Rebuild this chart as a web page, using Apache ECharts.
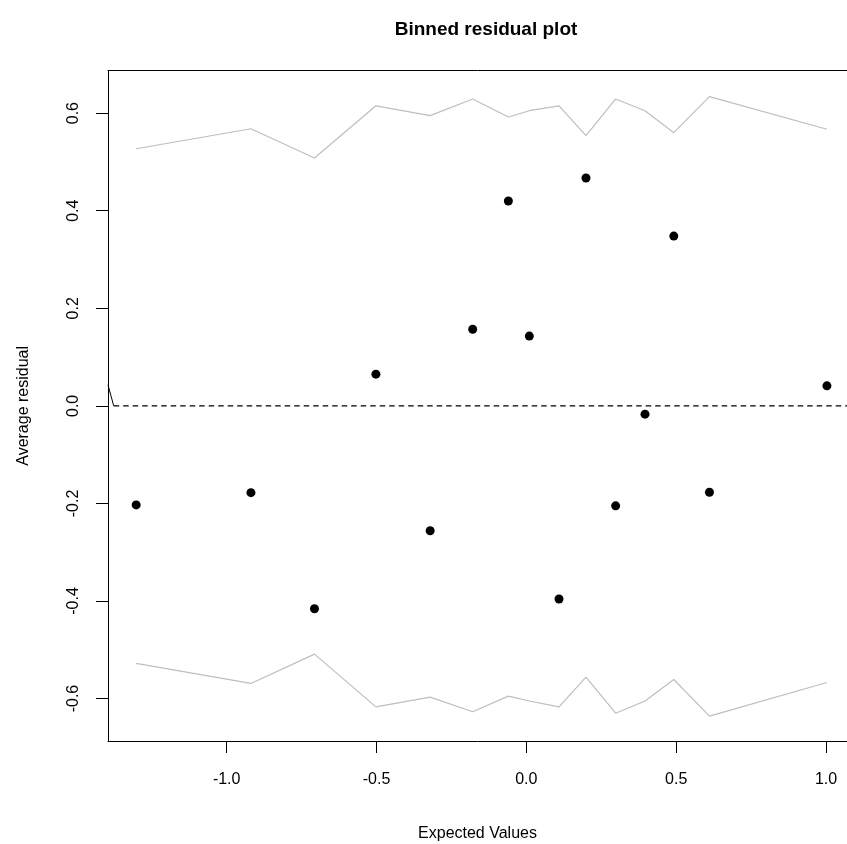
<!DOCTYPE html>
<html>
<head>
<meta charset="utf-8">
<script src="https://cdn.jsdelivr.net/npm/echarts@6/dist/echarts.min.js"></script>
<style>
    html, body { margin: 0; padding: 0; background: #fff; }
    #chart { width: 847px; height: 844px; }
</style>
</head>
<body>
<div id="chart"></div>
<script>
    // binned residuals
    var expected = [-1.302, -0.919, -0.707, -0.502, -0.321, -0.179, -0.060, 0.010, 0.109, 0.199, 0.298, 0.396, 0.492, 0.611, 1.003];
    var avgResidual = [-0.203, -0.178, -0.416, 0.065, -0.256, 0.157, 0.420, 0.143, -0.396, 0.467, -0.205, -0.017, 0.348, -0.177, 0.041];
    var upperBound = [0.527, 0.568, 0.508, 0.615, 0.595, 0.629, 0.592, 0.605, 0.615, 0.554, 0.629, 0.605, 0.560, 0.634, 0.567];
    var lowerBound = [-0.528, -0.569, -0.509, -0.617, -0.597, -0.627, -0.595, -0.605, -0.617, -0.556, -0.630, -0.605, -0.561, -0.636, -0.567];

    // little stray segment at the left edge and the zero reference line
    var strayX = [-1.396, -1.377];
    var strayY = [0.043, 0.0];
    var zeroX = [-1.377, 1.2];
    var zeroY = [0, 0];

    var xTicks = [-1.0, -0.5, 0.0, 0.5, 1.0];
    var yTicks = [-0.6, -0.4, -0.2, 0.0, 0.2, 0.4, 0.6];

    function pairs(xs, ys) {
        return xs.map(function (x, i) { return [x, ys[i]]; });
    }

    var myChart = echarts.init(document.getElementById('chart'));
    var font = 'Liberation Sans, Arial, Helvetica, sans-serif';
    var axisLine = { show: true, onZero: false, lineStyle: { color: '#000', width: 1 } };

    // the plot box runs past the right edge of the picture, so x max stops at the edge
    var option = {
        animation: false,
        textStyle: { fontFamily: font },
        title: {
            text: 'Binned residual plot',
            left: 481,
            top: 15,
            textAlign: 'center',
            textStyle: { fontFamily: font, fontSize: 19, fontWeight: 'bold', color: '#000' }
        },
        grid: {
            left: 108,
            top: 70.7,
            right: 0,
            bottom: 103,
            outerBoundsMode: 'none',
            containLabel: false
        },
        xAxis: [
            {
                type: 'value',
                position: 'bottom',
                min: -1.396,
                max: 1.070,
                name: 'Expected Values',
                nameLocation: 'middle',
                nameGap: 85,
                nameTextStyle: { fontFamily: font, fontSize: 16, color: '#000' },
                axisLine: axisLine,
                splitLine: { show: false },
                axisTick: {
                    show: true, length: 12, customValues: xTicks,
                    lineStyle: { color: '#000', width: 1 }
                },
                axisLabel: {
                    customValues: xTicks,
                    margin: 31,
                    fontSize: 16,
                    color: '#000',
                    fontFamily: font,
                    formatter: function (v) { return v.toFixed(1); }
                }
            },
            {
                type: 'value',
                position: 'top',
                min: -1.396,
                max: 1.070,
                axisLine: axisLine,
                axisTick: { show: false },
                axisLabel: { show: false },
                splitLine: { show: false }
            }
        ],
        yAxis: {
            type: 'value',
            min: -0.687,
            max: 0.687,
            name: 'Average residual',
            nameLocation: 'middle',
            nameGap: 76,
            nameTextStyle: { fontFamily: font, fontSize: 16, color: '#000' },
            axisLine: axisLine,
            splitLine: { show: false },
            axisTick: {
                show: true, length: 12, customValues: yTicks,
                lineStyle: { color: '#000', width: 1 }
            },
            axisLabel: {
                customValues: yTicks,
                rotate: 90,
                margin: 26,
                fontSize: 16,
                color: '#000',
                fontFamily: font,
                formatter: function (v) { return v.toFixed(1); }
            }
        },
        series: [
            {
                name: 'upper',
                type: 'line',
                data: pairs(expected, upperBound),
                symbol: 'none',
                lineStyle: { color: '#bebebe', width: 1.2 },
                silent: true
            },
            {
                name: 'lower',
                type: 'line',
                data: pairs(expected, lowerBound),
                symbol: 'none',
                lineStyle: { color: '#bebebe', width: 1.2 },
                silent: true
            },
            {
                name: 'zero',
                type: 'line',
                data: pairs(zeroX, zeroY),
                symbol: 'none',
                lineStyle: { color: '#000', width: 1.1, type: [5.5, 4] },
                silent: true
            },
            {
                name: 'stray',
                type: 'line',
                data: pairs(strayX, strayY),
                symbol: 'none',
                lineStyle: { color: '#000', width: 1 },
                silent: true
            },
            {
                name: 'residuals',
                type: 'scatter',
                data: pairs(expected, avgResidual),
                symbol: 'circle',
                symbolSize: 9,
                itemStyle: { color: '#000', opacity: 1 }
            }
        ]
    };

    option && myChart.setOption(option);
</script>
</body>
</html>
